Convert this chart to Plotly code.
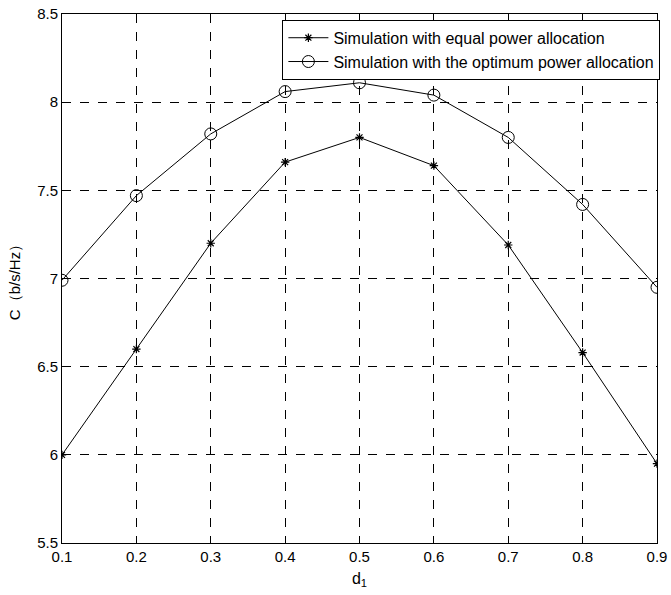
import plotly.graph_objects as go

d1 = [0.1, 0.2, 0.3, 0.4, 0.5, 0.6, 0.7, 0.8, 0.9]
equal_power = [6.00, 6.60, 7.20, 7.66, 7.80, 7.64, 7.19, 6.58, 5.95]
optimum_power = [6.99, 7.47, 7.82, 8.06, 8.11, 8.04, 7.80, 7.42, 6.95]
x_ticks = [0.1, 0.2, 0.3, 0.4, 0.5, 0.6, 0.7, 0.8, 0.9]
y_ticks = [5.5, 6, 6.5, 7, 7.5, 8, 8.5]

FONT = "Liberation Sans, Arial"

fig = go.Figure()
fig.add_trace(go.Scatter(
    x=d1, y=equal_power, mode="lines+markers",
    name="Simulation with equal power allocation",
    line=dict(color="black", width=1),
    marker=dict(symbol="asterisk", size=7, color="black", line=dict(width=1.2, color="black")),
))
fig.add_trace(go.Scatter(
    x=d1, y=optimum_power, mode="lines+markers",
    name="Simulation with the optimum power allocation",
    line=dict(color="black", width=1),
    marker=dict(symbol="circle-open", size=12, color="black", line=dict(width=1, color="black")),
))

axis_common = dict(
    showline=True, mirror=True, linecolor="black", linewidth=1,
    showgrid=True, gridcolor="black", griddash="dash", gridwidth=1,
    zeroline=False, ticks="inside", ticklen=4, tickcolor="black",
    tickfont=dict(family=FONT, size=15, color="black"),
    automargin=False,
)
fig.update_xaxes(range=[0.1, 0.9], tickvals=x_ticks, ticktext=[str(v) for v in x_ticks],
                 title=dict(text="d<sub>1</sub>", font=dict(family=FONT, size=16, color="black"), standoff=8),
                 **axis_common)
fig.update_yaxes(range=[5.5, 8.5], tickvals=y_ticks, ticktext=[str(v) for v in y_ticks],
                 title=dict(text="C（b/s/Hz）", font=dict(family=FONT, size=15, color="black"), standoff=12),
                 **axis_common)

fig.update_layout(
    width=671, height=595,
    margin=dict(l=62, r=13, t=14, b=52),
    paper_bgcolor="white", plot_bgcolor="white",
    showlegend=True,
    legend=dict(x=1.004, y=0.989, xanchor="right", yanchor="top",
                bgcolor="white", bordercolor="black", borderwidth=1,
                font=dict(family=FONT, size=16, color="black"),
                tracegroupgap=0, itemwidth=40),
)

fig.write_html("out.html")
